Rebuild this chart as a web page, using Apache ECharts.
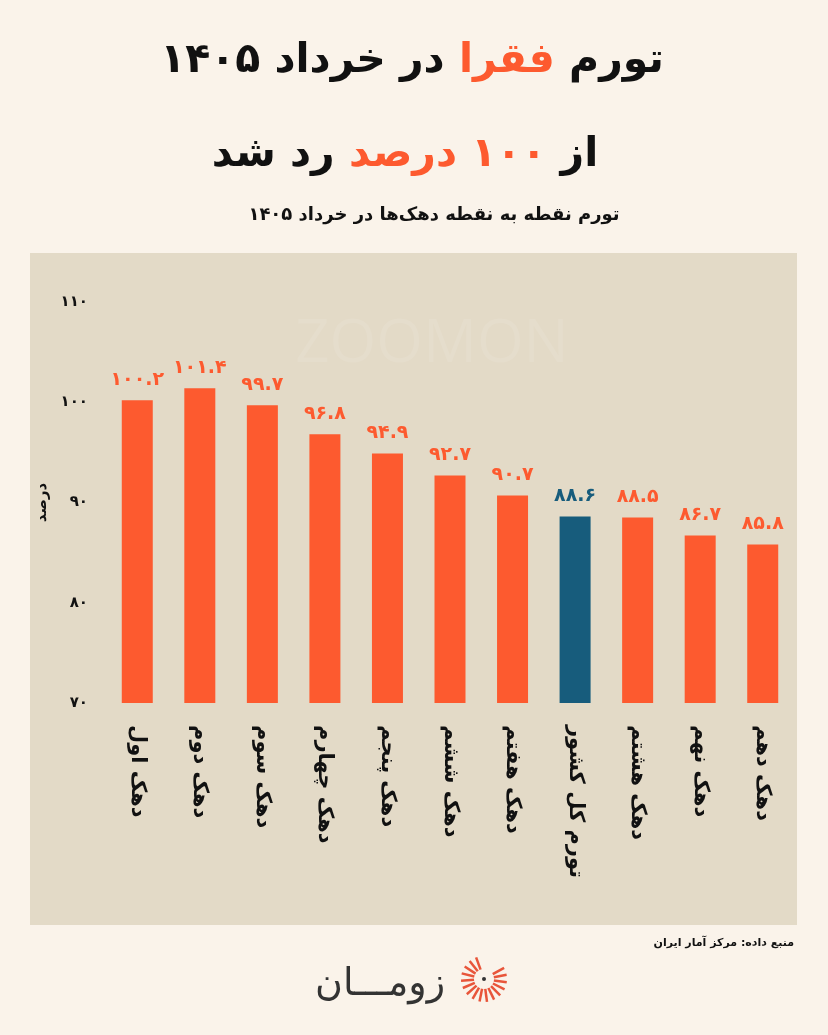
<!DOCTYPE html>
<html>
<head>
<meta charset="utf-8">
<script src="https://cdn.jsdelivr.net/npm/echarts@6/dist/echarts.min.js"></script>
<style>
html,body{margin:0;padding:0;background:#faf3ea;}
#c{width:828px;height:1035px;}
</style>
</head>
<body>
<div id="c"></div>
<script>
const categories = ['دهک اول','دهک دوم','دهک سوم','دهک چهارم','دهک پنجم','دهک ششم','دهک هفتم','تورم کل کشور','دهک هشتم','دهک نهم','دهک دهم'];
const values = [100.2, 101.4, 99.7, 96.8, 94.9, 92.7, 90.7, 88.6, 88.5, 86.7, 85.8];
const highlightIndex = 7;
const yTicks = [70, 80, 90, 100, 110];

const ORANGE = '#fd5a2f';
const BLUE = '#175c7c';
const FONT = '"DejaVu Sans", sans-serif';

function toFa(s){ return String(s).replace(/[0-9]/g, d => '۰۱۲۳۴۵۶۷۸۹'[+d]); }

const chart = echarts.init(document.getElementById('c'), null, {renderer:'canvas'});
chart.setOption({
  backgroundColor: '#faf3ea',
  textStyle: {fontFamily: FONT},
  title: [
    {
      text: '{k|در خرداد ۱۴۰۵ }{o|فقرا}{k| تورم}',
      left: 407, textAlign: 'center', top: 36,
      textStyle: {rich: {
        k: {fontSize: 41, fontWeight: 'bold', color: '#111', fontFamily: FONT},
        o: {fontSize: 41, fontWeight: 'bold', color: ORANGE, fontFamily: FONT}
      }}
    },
    {
      text: '{k|رد شد }{o|درصد}{o| ۱۰۰}{k| از}',
      left: 400, textAlign: 'center', top: 130,
      textStyle: {rich: {
        k: {fontSize: 41, fontWeight: 'bold', color: '#111', fontFamily: FONT},
        o: {fontSize: 41, fontWeight: 'bold', color: ORANGE, fontFamily: FONT}
      }}
    },
    {
      text: 'تورم نقطه به نقطه دهک‌ها در خرداد ۱۴۰۵',
      left: 429, textAlign: 'center', top: 201,
      textStyle: {fontSize: 18, fontWeight: 'bold', color: '#111', fontFamily: FONT}
    },
    {
      text: 'منبع داده: مرکز آمار ایران',
      right: 29, top: 933,
      textStyle: {fontSize: 11, fontWeight: 'bold', color: '#111', fontFamily: FONT}
    }
  ],
  graphic: [
    {type: 'rect', z: -10, shape: {x: 30, y: 253, width: 767, height: 672}, style: {fill: '#e3dac7'}},
    {type: 'text', z: -5, style: {text: 'ZOOMON', x: 432, y: 345, align: 'center', verticalAlign: 'middle', fontSize: 60, fontFamily: '"Open Sans", sans-serif', fill: 'rgba(255,255,255,0.09)'}},
    {type: 'text', style: {text: 'زومـــان', x: 445, y: 985, align: 'right', verticalAlign: 'middle', fontSize: 38, fontFamily: FONT, fill: '#333'}},
    {type: 'group', x: 484, y: 979, children: (function(){
      const arr = [];
      for (let i = 0; i < 16; i++) {
        const a = -Math.PI/2 - 0.35 - i * (Math.PI*1.55/15);
        const r1 = 10, r2 = 23;
        arr.push({type: 'line', shape: {x1: Math.cos(-a)*r1, y1: -Math.sin(-a)*r1, x2: Math.cos(-a)*r2, y2: -Math.sin(-a)*r2}, style: {stroke: '#e8553a', lineWidth: 2.5}});
      }
      arr.push({type: 'circle', shape: {cx: 0, cy: 0, r: 2}, style: {fill: '#333'}});
      return arr;
    })()}
  ],
  grid: {left: 106, right: 34, top: 302, bottom: 332, containLabel: false},
  xAxis: {
    type: 'category',
    data: categories,
    axisLine: {show: false},
    axisTick: {show: false},
    axisLabel: {rotate: -90, margin: 22, fontSize: 21, fontWeight: 'bold', color: '#111', fontFamily: FONT, interval: 0}
  },
  yAxis: {
    type: 'value',
    min: yTicks[0], max: yTicks[yTicks.length-1], interval: 10,
    name: 'درصد', nameLocation: 'middle', nameRotate: 90, nameGap: 52,
    nameTextStyle: {fontSize: 15, fontWeight: 'bold', color: '#111', fontFamily: FONT},
    splitLine: {show: false},
    axisLine: {show: false},
    axisTick: {show: false},
    axisLabel: {margin: 18, fontSize: 15, fontWeight: 'bold', color: '#111', fontFamily: FONT, formatter: v => toFa(v)}
  },
  series: [{
    type: 'bar',
    barWidth: 31,
    data: values.map((v, i) => ({
      value: v,
      itemStyle: {color: i === highlightIndex ? BLUE : ORANGE},
      label: {color: i === highlightIndex ? BLUE : ORANGE}
    })),
    label: {
      show: true, position: 'top', distance: 11,
      fontSize: 19, fontWeight: 'bold', fontFamily: FONT,
      formatter: p => toFa(p.value.toFixed(1))
    }
  }]
});
</script>
</body>
</html>
